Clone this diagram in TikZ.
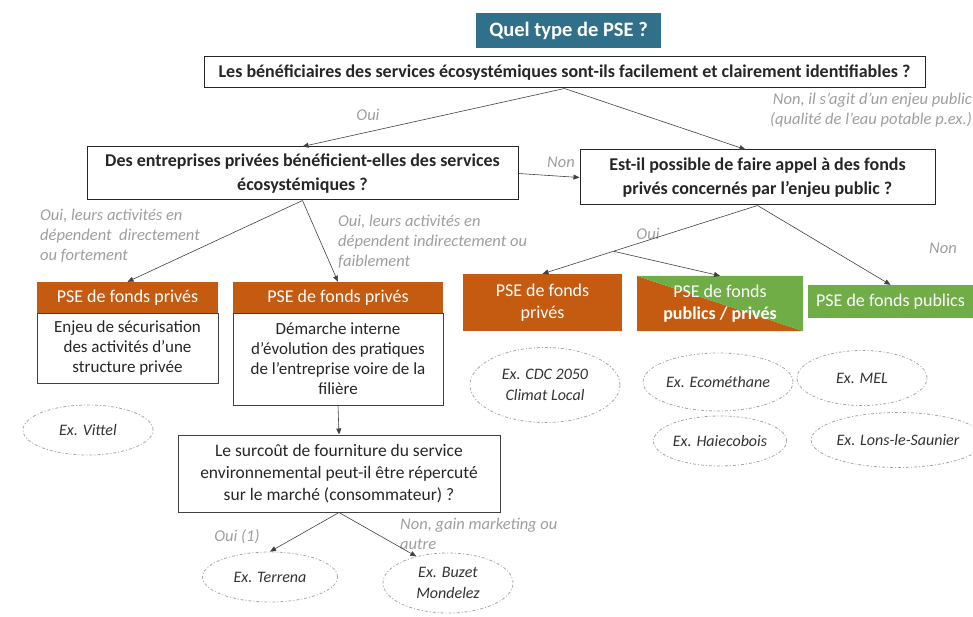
\documentclass[tikz,border=0pt]{standalone}
\usepackage{fontspec}
\setmainfont{Carlito}
\usetikzlibrary{shapes.geometric,arrows.meta,calc}
\definecolor{teal1}{HTML}{31708A}
\definecolor{orng}{HTML}{C55A11}
\definecolor{grn}{HTML}{70AD47}
\definecolor{lbl}{HTML}{9E9E9E}
\definecolor{arr}{HTML}{404040}
\definecolor{ell}{HTML}{A6A6A6}
\begin{document}
\begin{tikzpicture}[x=1pt,y=-1pt,
 qbox/.style={draw=black!85, line width=1pt, fill=white, align=center, inner sep=1pt, font=\fontsize{18}{24}\selectfont\bfseries, text=black!85},
 hbox/.style={fill=orng, text=white, align=center, inner sep=1pt, font=\fontsize{18}{22}\selectfont},
 bbox/.style={draw=black!75, line width=0.8pt, align=center, inner sep=1pt, font=\fontsize{17}{20}\selectfont, text=black!85},
 exell/.style={ellipse, draw=ell, line width=0.8pt, dash pattern=on 3pt off 2pt on 1pt off 2pt, align=center, inner sep=0pt, font=\fontsize{16}{21}\selectfont\itshape, text=black!80},
 lab/.style={text=lbl, align=left, font=\fontsize{16.5}{20}\selectfont\itshape, inner sep=0pt},
 arw/.style={draw=arr, line width=0.6pt, -{Triangle[length=6pt,width=5pt]}},
]
\useasboundingbox (0,0) rectangle (973,617);

% title and questions
\node[fill=teal1, text=white, minimum width=185pt, minimum height=35pt, inner sep=1pt, font=\fontsize{20.5}{24}\selectfont\bfseries] (title) at (568.5,30.5) {Quel type de PSE ?};
\node[qbox, minimum width=721pt, minimum height=31pt] (q1) at (564.5,72.5) {Les bénéficiaires des services écosystémiques sont-ils facilement et clairement identifiables ?};
\node[qbox, minimum width=431pt, minimum height=53pt] (q2) at (302.5,173.5) {Des entreprises privées bénéficient-elles des services\\écosystémiques ?};
\node[qbox, minimum width=355pt, minimum height=55pt] (q3) at (757.5,177.5) {Est-il possible de faire appel à des fonds\\privés concernés par l’enjeu public ?};

% left branch boxes
\node[hbox, minimum width=181pt, minimum height=31pt] (p1h) at (127.5,297.5) {PSE de fonds privés};
\node[bbox, minimum width=181pt, minimum height=70pt] (p1b) at (127.5,348) {Enjeu de sécurisation\\des activités d’une\\structure privée};
\node[hbox, minimum width=210pt, minimum height=31pt] (p2h) at (338,297.5) {PSE de fonds privés};
\node[bbox, minimum width=210pt, minimum height=92pt] (p2b) at (338,359) {Démarche interne\\d’évolution des pratiques\\de l’entreprise voire de la\\filière};
\node[bbox, line width=1pt, minimum width=322pt, minimum height=77pt, font=\fontsize{17.5}{22}\selectfont] (q4) at (339,473.5) {Le surcoût de fourniture du service\\environnemental peut-il être répercuté\\sur le marché (consommateur) ?};

% right branch boxes
\node[hbox, minimum width=159pt, minimum height=57pt] (p3) at (542.5,302.5) {PSE de fonds\\privés};
\node[hbox, fill=none, minimum width=166pt, minimum height=55pt,
  path picture={
    \fill[orng] (path picture bounding box.north west) -- (path picture bounding box.south east) -- (path picture bounding box.south west) -- cycle;
    \fill[grn] (path picture bounding box.north west) -- (path picture bounding box.north east) -- (path picture bounding box.south east) -- cycle;
  }] (p4) at (720,303.5) {PSE de fonds\\\textbf{publics / privés}};
\node[hbox, fill=grn, minimum width=165pt, minimum height=33pt] (p5) at (890.5,301.5) {PSE de fonds publics};

% examples
\node[exell, minimum width=130pt, minimum height=50pt] (vittel) at (88,430) {Ex. Vittel};
\node[exell, minimum width=135pt, minimum height=50pt] (terrena) at (270,577) {Ex. Terrena};
\node[exell, minimum width=130pt, minimum height=60pt] (buzet) at (448,583) {Ex. Buzet\\Mondelez};
\node[exell, minimum width=150pt, minimum height=75pt] (cdc) at (545,385) {Ex. CDC 2050\\Climat Local};
\node[exell, minimum width=150pt, minimum height=58pt] (ecom) at (718,382) {Ex. Ecométhane};
\node[exell, minimum width=130pt, minimum height=50pt] (haie) at (720,441) {Ex. Haiecobois};
\node[exell, minimum width=130pt, minimum height=55pt] (mel) at (862,378) {Ex. MEL};
\node[exell, minimum width=150pt, minimum height=55pt] (lons) at (898,440) {Ex. Lons-le-Saunier};

% labels
\node[lab] (l1) at (368,115) {Oui};
\node[lab, align=right, anchor=north east] (l2) at (972,93) {Non, il s’agit d’un enjeu public\\(qualité de l’eau potable p.ex.)};
\node[lab] (l3) at (561,162) {Non};
\node[lab, anchor=north west] (l4) at (40,209) {Oui, leurs activités en\\dépendent\ \ directement\\ou fortement};
\node[lab, anchor=north west] (l5) at (338,215) {Oui, leurs activités en\\dépendent indirectement ou\\faiblement};
\node[lab] (l6) at (648,234) {Oui};
\node[lab] (l7) at (943,248) {Non};
\node[lab] (l8) at (237,537) {Oui (1)};
\node[lab, anchor=north west] (l9) at (400,518) {Non, gain marketing ou\\autre};

% connectors
\draw[arw] (q1.south) -- (q2.north);
\draw[arw] (q1.south) -- ([xshift=-12pt]q3.north);
\draw[arw] (q2.east) -- (q3.west);
\draw[arw] (q2.south) -- (p1h.north);
\draw[arw] (q2.south) -- (p2h.north);
\draw[arw] (p2b.south) -- (q4.north);
\draw[arw] (q4.south) -- (terrena.north);
\draw[arw] (q4.south) -- (buzet.140);
\coordinate (jn) at ($(q3.south)!0.67!(p3.north)$);
\draw[arw] (q3.south) -- (p3.north);
\draw[arw] (jn) -- (p4.north);
\draw[arw] (q3.south) -- (p5.north);
\end{tikzpicture}
\end{document}
